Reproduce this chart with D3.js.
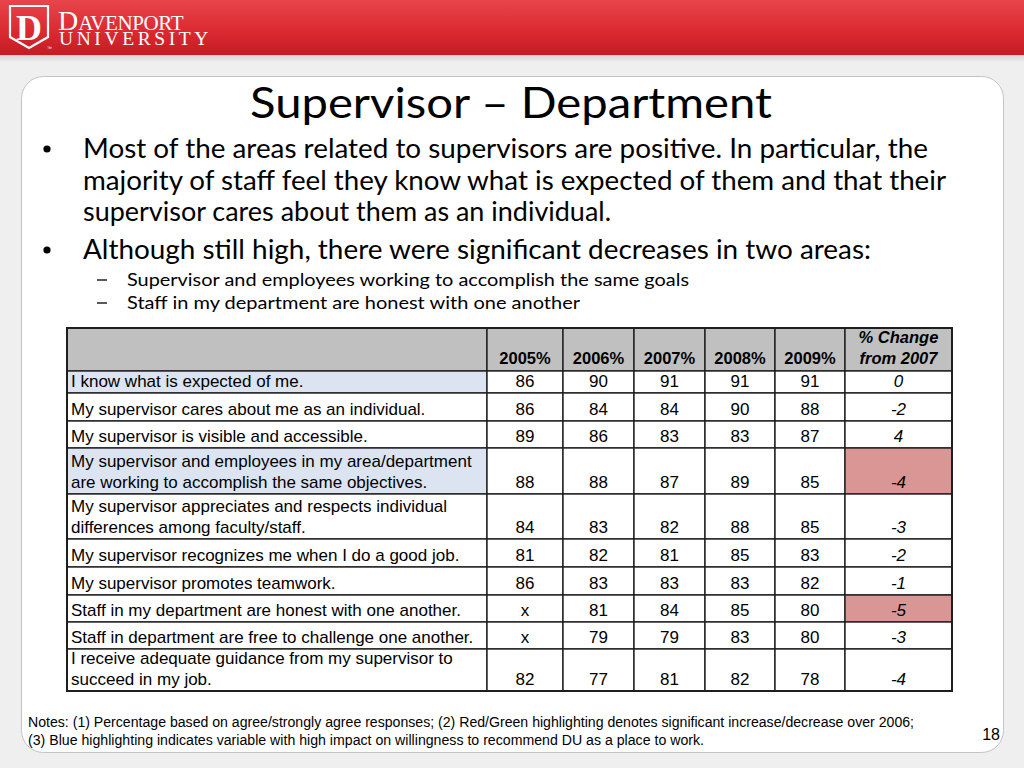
<!DOCTYPE html>
<html lang="en">
<head>
  <meta charset="UTF-8">
  <title>Supervisor – Department</title>
  <script src="https://d3js.org/d3.v7.min.js"></script>
  <style>
    html, body { margin: 0; padding: 0; background: #efefef; }
    svg { display: block; }
    .cell-text { font-family: "Liberation Sans", Arial, sans-serif; font-size: 17px; fill: #000; }
    .head-text { font-family: "Liberation Sans", Arial, sans-serif; font-size: 16.5px; font-weight: bold; fill: #000; }
    .slide-text { font-family: Lato, "Open Sans", sans-serif; fill: #000; }
  </style>
</head>
<body>
<svg id="slide" width="1024" height="768"></svg>
<script>
// ---- data ----
const years = ["2005%", "2006%", "2007%", "2008%", "2009%"];
const changeHeader = ["% Change", "from 2007"];

const items = [
  ["I know what is expected of me."],
  ["My supervisor cares about me as an individual."],
  ["My supervisor is visible and accessible."],
  ["My supervisor and employees in my area/department", "are working to accomplish the same objectives."],
  ["My supervisor appreciates and respects individual", "differences among faculty/staff."],
  ["My supervisor recognizes me when I do a good job."],
  ["My supervisor promotes teamwork."],
  ["Staff in my department are honest with one another."],
  ["Staff in department are free to challenge one another."],
  ["I receive adequate guidance from my supervisor to", "succeed in my job."]
];

const v2005 = [86, 86, 89, 88, 84, 81, 86, null, null, 82];
const v2006 = [90, 84, 86, 88, 83, 82, 83, 81, 79, 77];
const v2007 = [91, 84, 83, 87, 82, 81, 83, 84, 79, 81];
const v2008 = [91, 90, 83, 89, 88, 85, 83, 85, 83, 82];
const v2009 = [91, 88, 87, 85, 85, 83, 82, 80, 80, 78];
const changes = [0, -2, 4, -4, -3, -2, -1, -5, -3, -4];

// blue = high impact on recommending DU, red = significant decrease
const highImpact = [true, false, false, true, false, false, false, false, false, false];
const significant = [false, false, false, true, false, false, false, true, false, false];

const title = "Supervisor – Department";
const bullets = [
  ["Most of the areas related to supervisors are positive. In particular, the",
   "majority of staff feel they know what is expected of them and that their",
   "supervisor cares about them as an individual."],
  ["Although still high, there were significant decreases in two areas:"]
];
const subBullets = [
  "Supervisor and employees working to accomplish the same goals",
  "Staff in my department are honest with one another"
];
const notes = [
  "Notes: (1) Percentage based on agree/strongly agree responses; (2) Red/Green highlighting denotes significant increase/decrease over 2006;",
  "(3) Blue highlighting indicates variable with high impact on willingness to recommend DU as a place to work."
];
const pageNumber = "18";

// ---- layout ----
const W = 1024, H = 768;
const svg = d3.select("#slide");
const defs = svg.append("defs");

const bar = defs.append("linearGradient").attr("id", "bar").attr("x1", 0).attr("y1", 0).attr("x2", 0).attr("y2", 1);
bar.append("stop").attr("offset", "0%").attr("stop-color", "#e8454b");
bar.append("stop").attr("offset", "55%").attr("stop-color", "#dc2a32");
bar.append("stop").attr("offset", "100%").attr("stop-color", "#c41c24");
const shade = defs.append("linearGradient").attr("id", "shade").attr("x1", 0).attr("y1", 0).attr("x2", 0).attr("y2", 1);
shade.append("stop").attr("offset", "0%").attr("stop-color", "#cfcfcf");
shade.append("stop").attr("offset", "100%").attr("stop-color", "#efefef");

svg.append("rect").attr("width", W).attr("height", H).attr("fill", "#efefef");
svg.append("rect").attr("y", 54).attr("width", W).attr("height", 8).attr("fill", "url(#shade)");
svg.append("rect").attr("width", W).attr("height", 55).attr("fill", "url(#bar)");

// logo
const logo = svg.append("g").attr("fill", "none").attr("stroke", "#fff");
logo.append("path")
  .attr("d", "M10,6 L48,6 L48,37 L29,48 L10,37 Z")
  .attr("stroke-width", 2.2);
logo.append("text").attr("x", 29).attr("y", 40).attr("text-anchor", "middle")
  .attr("stroke", "none").attr("fill", "#fff")
  .style("font-family", "'Liberation Serif', serif").style("font-size", "36px").style("font-weight", "bold")
  .text("D");
logo.append("text").attr("x", 47).attr("y", 50)
  .attr("stroke", "none").attr("fill", "#fff")
  .style("font-family", "'Liberation Sans', sans-serif").style("font-size", "5px")
  .text("™");

// wordmark as one text block, two stacked lines
const wordmark = svg.append("text").attr("fill", "#fff")
  .style("font-family", "'Liberation Serif', serif");
wordmark.append("tspan").attr("x", 58).attr("y", 29.5).style("font-size", "28px").text("D");
wordmark.append("tspan").style("font-size", "21px").style("letter-spacing", "-0.4px").text("AVENPORT");
wordmark.append("tspan").attr("x", 59).attr("y", 45)
  .style("font-size", "19.5px").style("letter-spacing", "3.6px").text("UNIVERSITY");

// white content panel
svg.append("rect")
  .attr("x", 21.5).attr("y", 76.5).attr("width", 982).attr("height", 676)
  .attr("rx", 22).attr("fill", "#fff").attr("stroke", "#c4c4c4");

// title + bullets (line widths matched to the slide)
svg.append("text").attr("class", "slide-text")
  .attr("x", 250).attr("y", 118)
  .attr("textLength", 522).attr("lengthAdjust", "spacingAndGlyphs")
  .style("font-size", "42px").text(title);

const bulletLines = [
  { text: bullets[0][0], y: 158, w: 845 },
  { text: bullets[0][1], y: 190, w: 863 },
  { text: bullets[0][2], y: 221, w: 528 },
  { text: bullets[1][0], y: 259, w: 788 }
];
svg.selectAll(".bl").data(bulletLines).join("text")
  .attr("class", "bl slide-text")
  .attr("x", 83).attr("y", d => d.y)
  .attr("textLength", d => d.w).attr("lengthAdjust", "spacingAndGlyphs")
  .style("font-size", "27px").text(d => d.text);
svg.selectAll(".dot").data([158, 259]).join("circle")
  .attr("class", "dot").attr("cx", 47).attr("cy", d => d - 9).attr("r", 3.6).attr("fill", "#000");

const subLines = [
  { text: subBullets[0], y: 286, w: 562 },
  { text: subBullets[1], y: 309, w: 453 }
];
svg.selectAll(".sl").data(subLines).join("text")
  .attr("class", "sl slide-text")
  .attr("x", 127).attr("y", d => d.y)
  .attr("textLength", d => d.w).attr("lengthAdjust", "spacingAndGlyphs")
  .style("font-size", "18px").text(d => d.text);
svg.selectAll(".dash").data(subLines).join("line")
  .attr("class", "dash")
  .attr("x1", 97).attr("x2", 107).attr("y1", d => d.y - 6).attr("y2", d => d.y - 6)
  .attr("stroke", "#000").attr("stroke-width", 1.3);

// ---- table ----
const colKeys = ["label", ...years, "change"];
const colWidths = [420, 76, 71, 71, 70, 70, 107];
const tableX = 67, tableY = 328, headerH = 43;
const rowHeights = [22, 28, 27, 46, 45, 28, 28, 27, 27, 42];

const colX = d3.scaleOrdinal().domain(colKeys)
  .range([tableX, ...d3.cumsum(colWidths).map(s => tableX + s)]);
const colW = d3.scaleOrdinal().domain(colKeys).range(colWidths);
const rowIdx = d3.range(items.length);
const rowY = d3.scaleOrdinal().domain(rowIdx)
  .range(rowIdx.map(i => tableY + headerH + d3.sum(rowHeights.slice(0, i))));
const rowH = d3.scaleOrdinal().domain(rowIdx).range(rowHeights);

const series = [v2005, v2006, v2007, v2008, v2009];
const lineGap = 21;

const table = svg.append("g");

// header
table.selectAll(".hcell").data(colKeys).join("rect")
  .attr("class", "hcell")
  .attr("x", d => colX(d)).attr("y", tableY)
  .attr("width", d => colW(d)).attr("height", headerH)
  .attr("fill", "#c0c0c0").attr("stroke", "#1e1e1e").attr("stroke-width", 1.4);

function cellText(parent, x, y, str, cls, anchor, italic) {
  const t = parent.append("text").attr("class", cls)
    .attr("x", x).attr("y", y).attr("text-anchor", anchor).text(str);
  if (italic) t.style("font-style", "italic");
  return t;
}

years.forEach(y => {
  cellText(table, colX(y) + colW(y) / 2, tableY + headerH - 7, y, "head-text", "middle");
});
changeHeader.forEach((s, i) => {
  cellText(table, colX("change") + colW("change") / 2,
    tableY + headerH - 7 - (changeHeader.length - 1 - i) * lineGap, s, "head-text", "middle", true);
});

// body
rowIdx.forEach(i => {
  const top = rowY(i), h = rowH(i), base = top + h - 6;
  colKeys.forEach(k => {
    let fill = "#fff";
    if (k === "label" && highImpact[i]) fill = "#dbe4f0";
    if (k === "change" && significant[i]) fill = "#d99694";
    table.append("rect")
      .attr("x", colX(k)).attr("y", top).attr("width", colW(k)).attr("height", h)
      .attr("fill", fill).attr("stroke", "#1e1e1e").attr("stroke-width", 1.4);
  });
  items[i].forEach((line, j) => {
    cellText(table, colX("label") + 4, base - (items[i].length - 1 - j) * lineGap,
      line, "cell-text", "start");
  });
  years.forEach((y, c) => {
    const v = series[c][i];
    cellText(table, colX(y) + colW(y) / 2, base, v == null ? "x" : String(v), "cell-text", "middle");
  });
  cellText(table, colX("change") + colW("change") / 2, base, String(changes[i]), "cell-text", "middle", true);
});

// outer frame
const tableH = headerH + d3.sum(rowHeights);
table.append("rect")
  .attr("x", tableX).attr("y", tableY)
  .attr("width", d3.sum(colWidths)).attr("height", tableH)
  .attr("fill", "none").attr("stroke", "#1e1e1e").attr("stroke-width", 2);

// ---- notes + page number ----
const noteLines = [
  { text: notes[0], y: 727, w: 886 },
  { text: notes[1], y: 745, w: 676 }
];
svg.selectAll(".note").data(noteLines).join("text")
  .attr("class", "note").attr("x", 28).attr("y", d => d.y)
  .attr("textLength", d => d.w).attr("lengthAdjust", "spacingAndGlyphs")
  .style("font-family", "'Liberation Sans', Arial, sans-serif").style("font-size", "14px")
  .text(d => d.text);
svg.append("text").attr("x", 1000).attr("y", 740).attr("text-anchor", "end")
  .style("font-family", "'Liberation Sans', Arial, sans-serif").style("font-size", "16px")
  .text(pageNumber);
</script>
</body>
</html>
